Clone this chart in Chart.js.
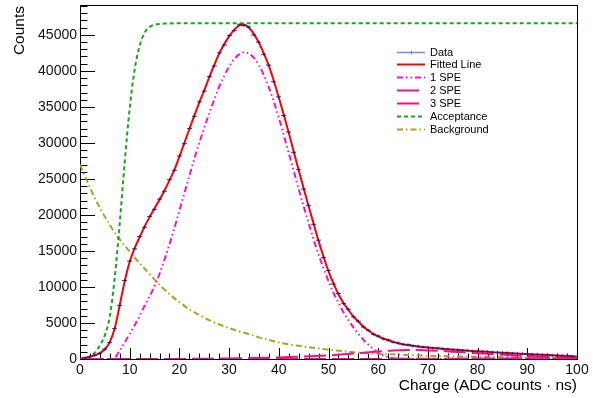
<!DOCTYPE html>
<html>
<head>
<meta charset="utf-8">
<script src="https://cdn.jsdelivr.net/npm/chart.js@4.4.1/dist/chart.umd.min.js"></script>
<style>
  html, body { margin: 0; padding: 0; background: #fff; }
</style>
</head>
<body>
<canvas id="chart" width="609" height="398"></canvas>
<script>
const FONT = "'Liberation Sans', Arial, Helvetica, sans-serif";

// tick labels
const xTicks = [0, 10, 20, 30, 40, 50, 60, 70, 80, 90, 100];
const yTicks = [0, 5000, 10000, 15000, 20000, 25000, 30000, 35000, 40000, 45000];

// charge grid (ADC counts * ns) for the fit and the data bins
const charge = [
  0, 1, 2, 3, 4, 5, 6, 7, 8, 9, 10, 11, 12, 13, 14, 15, 16, 17, 18, 19,
  20, 21, 22, 23, 24, 25, 26, 27, 28, 29, 30, 31, 32, 33, 34, 35, 36, 37, 38, 39,
  40, 41, 42, 43, 44, 45, 46, 47, 48, 49, 50, 51, 52, 53, 54, 55, 56, 57, 58, 59,
  60, 61, 62, 63, 64, 65, 66, 67, 68, 69, 70, 71, 72, 73, 74, 75, 76, 77, 78, 79,
  80, 81, 82, 83, 84, 85, 86, 87, 88, 89, 90, 91, 92, 93, 94, 95, 96, 97, 98, 99, 100
];

// histogram counts, bins 1..99
const counts = [
  150, 310, 540, 800, 1380, 2300, 4250, 7450, 10900, 13600,
  15300, 17000, 18300, 19800, 20800, 22200, 23300, 24900, 26200, 28200,
  29900, 32000, 33700, 35700, 37200, 39200, 40700, 42500, 43600, 44900,
  45600, 46400, 46300, 46100, 45000, 44000, 42300, 40800, 38500, 36400,
  33800, 31500, 28700, 26300, 23600, 21300, 18700, 16500, 14100, 12300,
  10400, 9100, 7700, 6900, 5850, 5250, 4450, 4000, 3450, 3200,
  2800, 2650, 2350, 2230, 2030, 1960, 1810, 1770, 1650, 1620,
  1520, 1500, 1400, 1380, 1290, 1280, 1190, 1180, 1090, 1090,
  1010, 1000, 930, 920, 860, 840, 790, 770, 720, 700,
  650, 630, 580, 570, 510, 500, 450, 430, 380
];

// fitted line, on charge grid 0..100
const fitted = [
  0, 140, 320, 520, 820, 1350, 2350, 4300, 7500, 10800,
  13500, 15400, 16900, 18400, 19700, 20900, 22100, 23400, 24800, 26300,
  28100, 30000, 31900, 33800, 35600, 37300, 39100, 40800, 42400, 43700,
  44800, 45700, 46300, 46450, 46000, 45100, 43900, 42400, 40700, 38600,
  36300, 33900, 31400, 28800, 26200, 23700, 21200, 18800, 16400, 14200,
  12200, 10500, 9000, 7800, 6800, 5900, 5200, 4500, 3950, 3500,
  3150, 2850, 2600, 2380, 2200, 2060, 1940, 1840, 1750, 1670,
  1600, 1540, 1480, 1420, 1360, 1310, 1260, 1210, 1160, 1110,
  1070, 1030, 990, 950, 910, 870, 830, 800, 760, 730,
  690, 660, 620, 590, 560, 520, 490, 460, 420, 390, 350
];

// 1 SPE component
const spe1Charge = [
  0, 6, 7, 8, 9, 10, 11, 12, 13, 14, 15, 16, 17, 18, 19, 20, 21, 22, 23, 24,
  25, 26, 27, 28, 29, 30, 31, 32, 33, 34, 35, 36, 37, 38, 39, 40, 41, 42, 43, 44,
  45, 46, 47, 48, 49, 50, 51, 52, 53, 54, 55, 56, 57, 58, 59, 60, 61, 62, 63, 64,
  66, 70, 80, 90, 100
];
const spe1 = [
  0, 0, 150, 1200, 2300, 3500, 4700, 6000, 7400, 8700, 10100, 11800, 13800, 15900, 18200, 20600, 23000, 25400, 27800, 30000,
  32100, 34100, 36000, 37800, 39300, 40600, 41600, 42300, 42600, 42400, 41800, 40800, 39400, 37700, 35700, 33500, 31100, 28600, 26100, 23600,
  21200, 18900, 16600, 14500, 12600, 10800, 9200, 7800, 6500, 5400, 4400, 3500, 2700, 2000, 1400, 900, 500, 250, 100, 30,
  0, 0, 0, 0, 0
];

// 2 SPE component
const spe2Charge = [0, 15, 20, 25, 30, 35, 40, 45, 50, 55, 60, 63, 66, 69, 72, 75, 78, 81, 84, 87, 90, 95, 100];
const spe2 = [0, 0, 10, 30, 70, 130, 220, 330, 500, 750, 1030, 1180, 1240, 1220, 1140, 1020, 890, 760, 640, 530, 430, 280, 170];

// 3 SPE component
const spe3Charge = [0, 40, 50, 60, 70, 80, 90, 95, 100];
const spe3 = [0, 0, 5, 15, 35, 60, 90, 100, 105];

// acceptance
const accCharge = [
  0, 1, 2, 3, 4, 5, 6, 7, 8, 9, 10, 11, 12, 13, 14, 15, 16, 17, 18, 19, 20,
  25, 30, 35, 40, 45, 50, 55, 60, 65, 70, 75, 80, 85, 90, 95, 100
];
const acceptance = [
  0, 100, 350, 900, 1900, 3300, 5900, 11400, 18900, 27400, 34800, 40200, 43500, 45300, 46100, 46400, 46520, 46570, 46590, 46600, 46600,
  46600, 46600, 46600, 46600, 46600, 46600, 46600, 46600, 46600, 46600, 46600, 46600, 46600, 46600, 46600, 46600
];

// background
const bgCharge = [
  0, 2, 4, 6, 8, 10, 12, 14, 16, 18, 20, 22, 24, 26, 28, 30, 32, 34, 36, 38, 40, 42, 44, 46, 48, 50,
  55, 60, 65, 70, 75, 80, 85, 90, 95, 100
];
const background = [
  27000, 23800, 21000, 18600, 16600, 14900, 13300, 11800, 10300, 9000, 7900, 6900, 6100, 5400, 4800, 4300, 3850, 3450, 3000, 2650, 2300, 2050, 1830, 1630, 1460, 1300,
  950, 720, 570, 460, 380, 310, 260, 220, 190, 160
];

function pts(xs, ys) {
  return ys.map((v, i) => ({ x: xs[i], y: v }));
}

// data marker: bin-wide horizontal bar with a short vertical error bar
const marker = document.createElement('canvas');
marker.width = 5;
marker.height = 5;
const mctx = marker.getContext('2d');
mctx.fillStyle = 'rgba(25,25,130,0.85)';
mctx.fillRect(0, 2, 5, 1);
mctx.fillRect(2, 1, 1, 3);

const curve = (label, xs, ys, color, dash, order) => ({
  label: label,
  data: pts(xs, ys),
  borderColor: color,
  borderWidth: 2,
  borderDash: dash,
  pointRadius: 0,
  fill: false,
  cubicInterpolationMode: 'monotone',
  order: order
});

const frameAndTicks = {
  id: 'frameAndTicks',
  beforeDatasetsDraw(chart) {
    const { ctx, chartArea: a, scales: { x, y } } = chart;
    ctx.save();
    ctx.strokeStyle = '#000';
    ctx.lineWidth = 1;
    ctx.beginPath();
    for (let v = 0; v <= 100; v += 2) {
      const px = Math.round(x.getPixelForValue(v)) + 0.5;
      const len = v % 10 === 0 ? 11 : 5.5;
      ctx.moveTo(px, a.bottom);
      ctx.lineTo(px, a.bottom - len);
    }
    for (let v = 0; v <= y.max; v += 1000) {
      const py = Math.round(y.getPixelForValue(v)) + 0.5;
      const len = v % 5000 === 0 ? 15 : 7.5;
      ctx.moveTo(a.left, py);
      ctx.lineTo(a.left + len, py);
    }
    ctx.stroke();
    ctx.strokeRect(a.left + 0.5, a.top + 0.5, a.right - a.left, a.bottom - a.top);
    ctx.restore();
  },
  afterDraw(chart) {
    const { ctx, chartArea: a } = chart;
    ctx.save();
    ctx.fillStyle = '#000';
    ctx.font = '15.5px ' + FONT;
    ctx.textBaseline = 'middle';
    ctx.textAlign = 'right';
    ctx.fillText('Charge (ADC counts \u00b7 ns)', a.right, 386);
    ctx.translate(20, 6);
    ctx.rotate(-Math.PI / 2);
    ctx.fillText('Counts', 0, 0);
    ctx.restore();
  }
};

const rootLegend = {
  id: 'rootLegend',
  afterDraw(chart) {
    const ctx = chart.ctx;
    ctx.save();
    ctx.font = '11px ' + FONT;
    ctx.textBaseline = 'middle';
    ctx.textAlign = 'left';
    chart.data.datasets.forEach((ds, i) => {
      const yy = Math.round(51.5 + i * 12.9) + 0.5;
      ctx.strokeStyle = ds.legendColor || ds.borderColor;
      ctx.lineWidth = ds.legendColor ? 1.5 : 2;
      ctx.setLineDash(ds.borderDash || []);
      ctx.beginPath();
      ctx.moveTo(397, yy);
      ctx.lineTo(425, yy);
      ctx.stroke();
      if (ds.legendColor) {
        ctx.setLineDash([]);
        ctx.lineWidth = 1;
        ctx.beginPath();
        ctx.moveTo(411.5, yy - 2);
        ctx.lineTo(411.5, yy + 2);
        ctx.stroke();
      }
      ctx.fillStyle = '#000';
      ctx.fillText(ds.label, 430, yy);
    });
    ctx.restore();
  }
};

new Chart(document.getElementById('chart'), {
  type: 'line',
  data: {
    datasets: [
      {
        label: 'Data',
        data: pts(charge.slice(1, 100), counts),
        showLine: false,
        pointStyle: marker,
        pointRadius: 3,
        legendColor: 'rgba(110,110,200,0.85)',
        order: 0
      },
      curve('Fitted Line', charge, fitted, '#ff0000', [], 1),
      curve('1 SPE', spe1Charge, spe1, '#ff10c8', [6, 3, 1.5, 3, 1.5, 3], 2),
      curve('2 SPE', spe2Charge, spe2, '#ff0a8a', [22, 6], 3),
      curve('3 SPE', spe3Charge, spe3, '#ff0a8a', [22, 6], 4),
      curve('Acceptance', accCharge, acceptance, '#1aa51a', [4, 3], 5),
      curve('Background', bgCharge, background, '#a8a422', [6, 3, 1.5, 3], 6)
    ]
  },
  options: {
    responsive: false,
    devicePixelRatio: 1,
    animation: false,
    events: [],
    layout: { padding: { top: 0, right: 32, left: 0, bottom: 0 } },
    plugins: { legend: { display: false }, tooltip: { enabled: false } },
    scales: {
      x: {
        type: 'linear',
        min: 0,
        max: 100,
        afterBuildTicks: (s) => { s.ticks = xTicks.map(v => ({ value: v })); },
        afterFit: (s) => { s.height = 39; s.paddingLeft = 0; s.paddingRight = 0; },
        grid: { display: false, drawTicks: false },
        border: { display: false },
        ticks: { padding: 3, color: '#111', font: { family: FONT, size: 14 }, maxRotation: 0, autoSkip: false, callback: (v) => String(v) }
      },
      y: {
        type: 'linear',
        min: 0,
        max: 49150,
        afterBuildTicks: (s) => { s.ticks = yTicks.map(v => ({ value: v })); },
        afterFit: (s) => { s.width = 80; s.paddingTop = 0; s.paddingBottom = 0; },
        grid: { display: false, drawTicks: false },
        border: { display: false },
        ticks: { padding: 3, color: '#111', font: { family: FONT, size: 14 }, callback: (v) => String(v) }
      }
    }
  },
  plugins: [frameAndTicks, rootLegend]
});
</script>
</body>
</html>
